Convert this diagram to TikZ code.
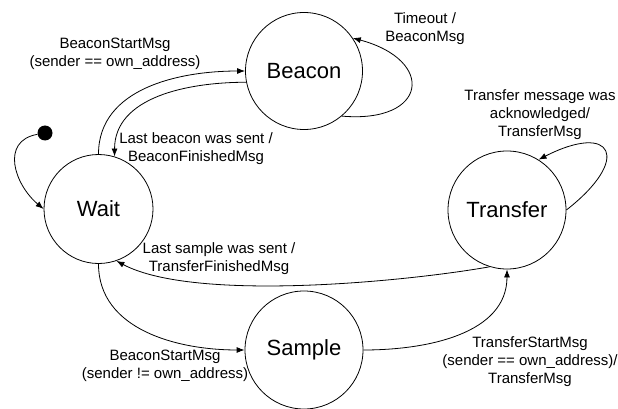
\documentclass[tikz,border=0pt]{standalone}
\usepackage{fontspec}
\setmainfont{Liberation Sans}
\usetikzlibrary{automata, positioning, arrows.meta}
\tikzset{
    ->, % makes the edges directed
    every state/.style={line width=0.8pt, inner sep=0pt, font=\fontsize{22}{26}\selectfont}, % look of each state
    >={Latex[length=8pt, width=6pt]}, % filled arrow heads
    every edge/.append style={line width=0.8pt},
}

\begin{document}
\begin{tikzpicture}[
                        x=1pt, y=1pt,
                        msgLabel/.style={align=center, inner sep=0pt, font=\fontsize{15}{18}\selectfont},
                    ]
                    \useasboundingbox (0,0) rectangle (618,-409);
                    \node[state, minimum size=109pt] (wait) at (98.5,-209) {Wait};
                    \node[state, minimum size=117pt] (beacon) at (304,-71) {Beacon};
                    \node[state, minimum size=118pt] (transfer) at (507,-210) {Transfer};
                    \node[state, minimum size=118pt] (sample) at (304,-350) {Sample};
                    \node[circle, fill=black, minimum size=15pt, inner sep=0pt] (start) at (45,-133) {};
                    % transition texts
                    \node[msgLabel] (lWaitBeacon) at (115,-54) {BeaconStartMsg\\(sender == own\_address)};
                    \node[msgLabel] (lBeaconWait) at (196,-149) {Last beacon was sent /\\BeaconFinishedMsg};
                    \node[msgLabel] (lBeaconLoop) at (425,-29) {Timeout /\\BeaconMsg};
                    \node[msgLabel] (lTransferLoop) at (540,-115) {Transfer message was\\acknowledged/\\TransferMsg};
                    \node[msgLabel] (lTransferWait) at (219,-259) {Last sample was sent /\\TransferFinishedMsg};
                    \node[msgLabel] (lWaitSample) at (165,-366) {BeaconStartMsg\\(sender != own\_address)};
                    \node[msgLabel] (lSampleTransfer) at (530,-362) {TransferStartMsg\\(sender == own\_address)/\\TransferMsg};
                    \path
                    (start) edge[out=190, in=140, looseness=1.3] (wait.west)
                    (wait.north) edge[out=90, in=180] (beacon.west)
                    (beacon.191) edge[out=180, in=90] (wait.73)
                    (beacon.-50) edge[out=-5, in=-15, looseness=2.8] (beacon.34)
                    (transfer.0) edge[out=38, in=27, looseness=3.7] (transfer.58)
                    (transfer.253) edge[out=190, in=-28, looseness=0.6] (wait.289)
                    (wait.south) edge[out=-90, in=180] (sample.west)
                    (sample.east) edge[out=0, in=-90] (transfer.south);
                \end{tikzpicture}
\end{document}
